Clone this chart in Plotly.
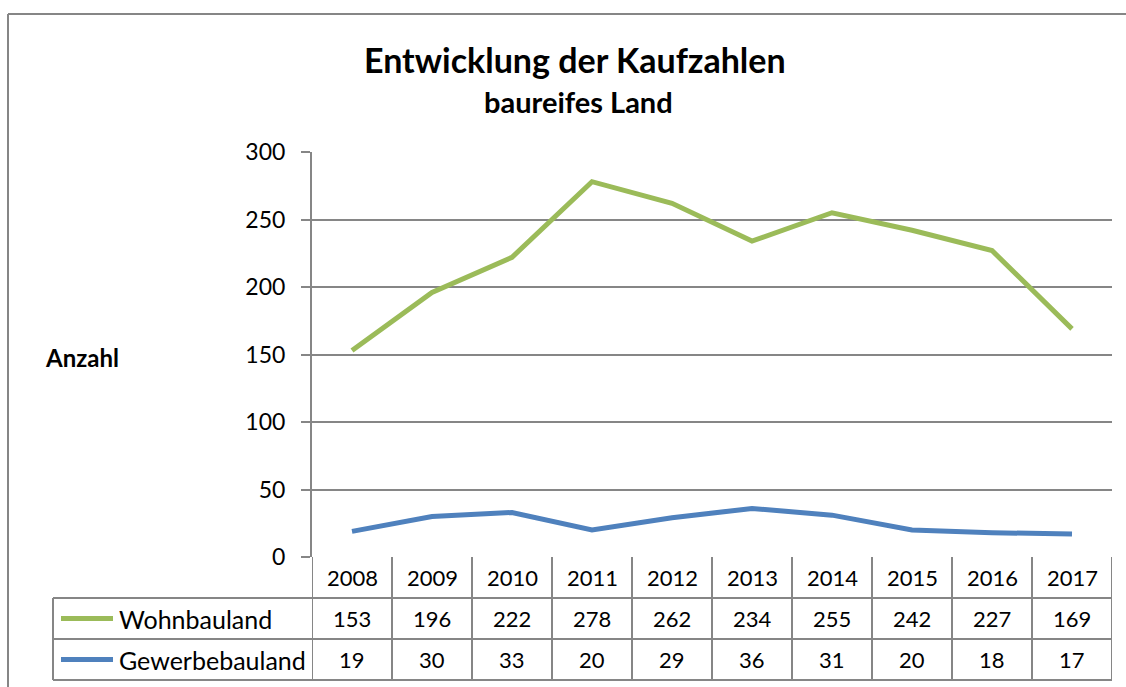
import plotly.graph_objects as go

years = ["2008", "2009", "2010", "2011", "2012", "2013", "2014", "2015", "2016", "2017"]
wohnbauland = [153, 196, 222, 278, 262, 234, 255, 242, 227, 169]
gewerbebauland = [19, 30, 33, 20, 29, 36, 31, 20, 18, 17]
series_names = ["Wohnbauland", "Gewerbebauland"]
series_colors = ["#9BBB59", "#4F81BD"]

W, H = 1126, 687
L, R, T, B = 312, 14, 152, 130
plot_w = W - L - R
plot_h = H - T - B
FONT = "Lato"
GRID = "#868686"


def px_x(px):
    return (px - L) / plot_w


def px_y(py):
    return (H - B - py) / plot_h


fig = go.Figure()
xs = list(range(len(years)))
for name, vals, col in zip(series_names, [wohnbauland, gewerbebauland], series_colors):
    fig.add_trace(go.Scatter(x=xs, y=vals, mode="lines", name=name,
                             line=dict(color=col, width=5), showlegend=False,
                             cliponaxis=False))

shapes = []
annotations = []

# outer border (top and left edges visible)
shapes.append(dict(type="line", xref="paper", yref="paper",
                   x0=px_x(8), x1=px_x(1200), y0=px_y(14), y1=px_y(14),
                   line=dict(color=GRID, width=2), layer="below"))
shapes.append(dict(type="line", xref="paper", yref="paper",
                   x0=px_x(8), x1=px_x(8), y0=px_y(14), y1=px_y(720),
                   line=dict(color=GRID, width=2), layer="below"))

# table rows
row_bounds = [557, 598, 639, 680]
for yb in row_bounds[1:]:
    shapes.append(dict(type="line", xref="paper", yref="paper",
                       x0=px_x(53), x1=1, y0=px_y(yb), y1=px_y(yb),
                       line=dict(color=GRID, width=2)))
for k in range(len(years) + 1):
    xv = k - 0.5
    shapes.append(dict(type="line", xref="x", yref="paper",
                       x0=xv, x1=xv, y0=px_y(557), y1=px_y(680),
                       line=dict(color=GRID, width=2)))
shapes.append(dict(type="line", xref="paper", yref="paper",
                   x0=px_x(53), x1=px_x(53), y0=px_y(598), y1=px_y(680),
                   line=dict(color=GRID, width=2)))

row_centers = [577.5, 618.5, 659.5]
for i, yr in enumerate(years):
    annotations.append(dict(x=i, y=px_y(row_centers[0]), xref="x", yref="paper",
                            text=yr, showarrow=False, xanchor="center", yanchor="middle",
                            font=dict(family=FONT, size=22, color="black")))
for r, (name, vals, col) in enumerate(zip(series_names, [wohnbauland, gewerbebauland], series_colors)):
    yc = px_y(row_centers[r + 1])
    for i, v in enumerate(vals):
        annotations.append(dict(x=i, y=yc, xref="x", yref="paper",
                                text=str(v), showarrow=False, xanchor="center", yanchor="middle",
                                font=dict(family=FONT, size=22, color="black")))
    shapes.append(dict(type="line", xref="paper", yref="paper",
                       x0=px_x(61), x1=px_x(113), y0=yc, y1=yc,
                       line=dict(color=col, width=5)))
    annotations.append(dict(x=px_x(117), y=yc, xref="paper", yref="paper",
                            text=name, showarrow=False, xanchor="left", yanchor="middle",
                            font=dict(family=FONT, size=25, color="black")))

# titles
annotations.append(dict(x=px_x(575), y=px_y(59), xref="paper", yref="paper",
                        text="<b>Entwicklung der Kaufzahlen</b>", showarrow=False,
                        xanchor="center", yanchor="middle",
                        font=dict(family=FONT, size=34, color="black")))
annotations.append(dict(x=px_x(578), y=px_y(102), xref="paper", yref="paper",
                        text="<b>baureifes Land</b>", showarrow=False,
                        xanchor="center", yanchor="middle",
                        font=dict(family=FONT, size=29, color="black")))
annotations.append(dict(x=px_x(82), y=px_y(357), xref="paper", yref="paper",
                        text="<b>Anzahl</b>", showarrow=False,
                        xanchor="center", yanchor="middle",
                        font=dict(family=FONT, size=24, color="black")))

fig.update_layout(
    width=W, height=H,
    margin=dict(l=L, r=R, t=T, b=B, pad=0),
    paper_bgcolor="white", plot_bgcolor="white",
    shapes=shapes, annotations=annotations,
    xaxis=dict(range=[-0.5, len(years) - 0.5], showgrid=False, showticklabels=False,
               zeroline=False, showline=False, ticks=""),
    yaxis=dict(range=[0, 300], dtick=50, showgrid=True, gridcolor=GRID, gridwidth=2,
               showline=True, linecolor=GRID, linewidth=2, ticks="outside",
               ticklen=9, tickcolor=GRID, tickwidth=2, zeroline=False,
               ticklabelstandoff=11,
               tickfont=dict(family=FONT, size=23, color="black")),
)

fig.write_html("out.html", config={"displayModeBar": False},
               post_script="document.body.style.margin='0';document.body.style.overflow='hidden';")
